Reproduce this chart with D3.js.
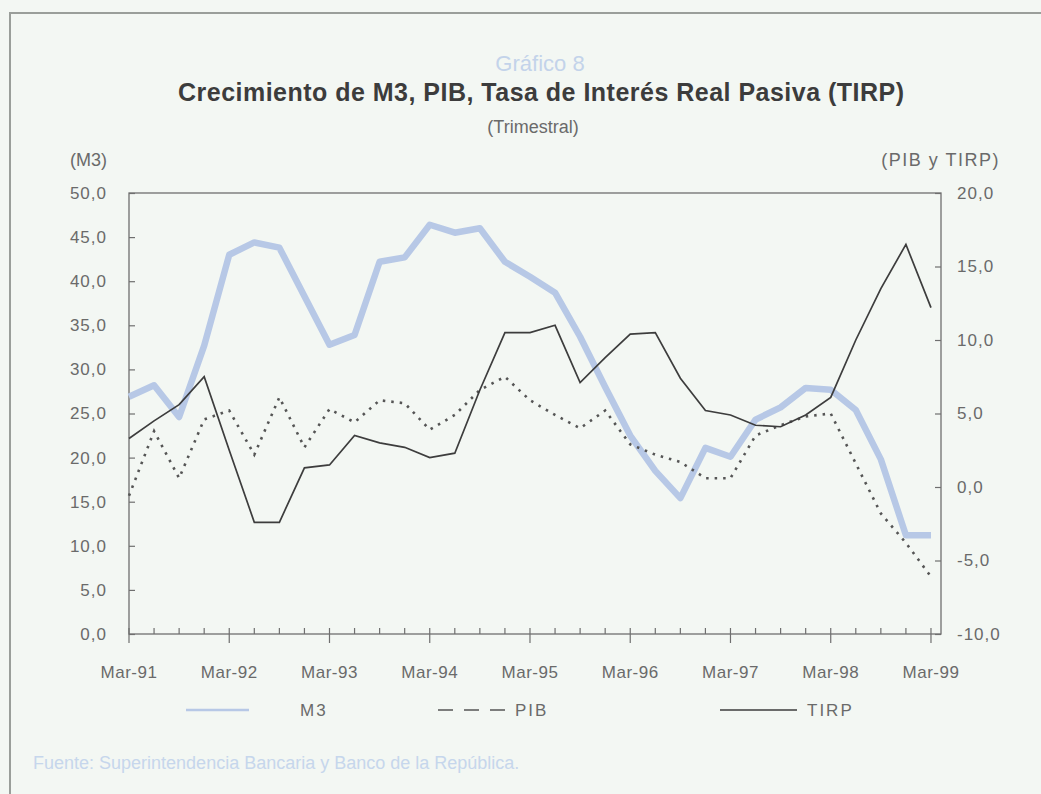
<!DOCTYPE html>
<html>
<head>
<meta charset="utf-8">
<script src="https://cdn.jsdelivr.net/npm/d3@7"></script>
<style>
  html, body { margin: 0; padding: 0; background: #f3f7f3; }
  svg { display: block; }
</style>
</head>
<body>
<script>
// quarterly series, Mar-91 .. Mar-99
let quarterLabels = ["Mar-91", "Mar-92", "Mar-93", "Mar-94", "Mar-95", "Mar-96", "Mar-97", "Mar-98", "Mar-99"];
let m3 = [26.9, 28.2, 24.6, 32.7, 43.0, 44.4, 43.8, 38.3, 32.8, 33.9, 42.2, 42.7, 46.4, 45.5, 46.0, 42.2, 40.5,
  38.7, 33.7, 28.0, 22.5, 18.5, 15.4, 21.1, 20.1, 24.3, 25.7, 27.9, 27.7, 25.4, 19.8, 11.2, 11.2];
let pib = [-0.6, 3.8, 0.6, 4.6, 5.2, 2.2, 6.1, 2.7, 5.3, 4.4, 5.9, 5.7, 3.9, 4.9, 6.6, 7.5, 5.9,
  4.9, 4.0, 5.2, 2.9, 2.2, 1.7, 0.6, 0.6, 3.5, 4.2, 4.8, 5.0, 1.6, -1.8, -3.8, -6.1];
let tirp = [3.3, 4.5, 5.6, 7.5, 2.5, -2.4, -2.4, 1.3, 1.5, 3.5, 3.0, 2.7, 2.0, 2.3, 6.6, 10.5, 10.5,
  11.0, 7.1, 8.8, 10.4, 10.5, 7.4, 5.2, 4.9, 4.2, 4.1, 4.9, 6.1, 10.0, 13.5, 16.5, 12.2];
let leftTicks = [0, 5, 10, 15, 20, 25, 30, 35, 40, 45, 50];
let rightTicks = [-10, -5, 0, 5, 10, 15, 20];

let w = 1041, h = 794;
let plotLeft = 129, plotRight = 941, plotTop = 193, plotBottom = 634;
let narrow = "'Liberation Sans Narrow', 'Arial Narrow', 'Liberation Sans', Arial, sans-serif";
let txtGray = "#6a6a6a";
let axisGray = "#6f6f6f";

const svg = d3.select("body").append("svg")
  .attr("width", w)
  .attr("height", h);

// outer frame
svg.append("path")
  .attr("d", "M10," + (h + 5) + " L10,13 L" + (w + 5) + ",13")
  .attr("fill", "none")
  .attr("stroke", "#9a9e9a")
  .attr("stroke-width", 2);

const xScale = d3.scaleLinear().domain([0, 32.4]).range([plotLeft, plotRight]);
const yLeft = d3.scaleLinear().domain([0, 50]).range([plotBottom, plotTop]);
const yRight = d3.scaleLinear().domain([-10, 20]).range([plotBottom, plotTop]);

const fmt = (v) => d3.format(".1f")(v).replace(".", ",").replace("−", "-");

// titles
svg.append("text").attr("x", 540).attr("y", 71).attr("text-anchor", "middle")
  .style("font-family", narrow).style("font-size", "22px").style("fill", "#c3d3ea")
  .text("Gráfico 8");
svg.append("text").attr("x", 541).attr("y", 101).attr("text-anchor", "middle")
  .attr("textLength", 726)
  .style("font-family", "'Liberation Sans', Arial, sans-serif").style("font-weight", "bold")
  .style("font-size", "25px").style("fill", "#3c3c3c")
  .text("Crecimiento de M3, PIB, Tasa de Interés Real Pasiva (TIRP)");
svg.append("text").attr("x", 533).attr("y", 133).attr("text-anchor", "middle")
  .style("font-family", narrow).style("font-size", "18px").style("fill", txtGray)
  .text("(Trimestral)");
svg.append("text").attr("x", 70).attr("y", 166)
  .style("font-family", narrow).style("font-size", "18px").style("fill", txtGray)
  .text("(M3)");
svg.append("text").attr("x", 1000).attr("y", 166).attr("text-anchor", "end")
  .style("font-family", narrow).style("font-size", "18px").style("letter-spacing", "1.5px")
  .style("fill", txtGray)
  .text("(PIB y TIRP)");

// plot box
svg.append("rect")
  .attr("x", plotLeft).attr("y", plotTop)
  .attr("width", plotRight - plotLeft).attr("height", plotBottom - plotTop)
  .attr("fill", "none").attr("stroke", axisGray).attr("stroke-width", 1.3);

// left axis
const yAxisL = d3.axisLeft(yLeft).tickValues(leftTicks).tickFormat(fmt).tickSizeInner(-6).tickSizeOuter(0).tickPadding(22);
svg.append("g").attr("transform", "translate(" + plotLeft + ",0)").call(yAxisL)
  .call(g => g.select(".domain").remove())
  .call(g => g.selectAll("line").attr("stroke", axisGray).attr("stroke-width", 1.2))
  .call(g => g.selectAll("text").style("font-family", narrow).style("font-size", "17px")
    .style("letter-spacing", "1px").attr("fill", txtGray));

// right axis
const yAxisR = d3.axisRight(yRight).tickValues(rightTicks).tickFormat(fmt).tickSizeInner(-6).tickSizeOuter(0).tickPadding(16);
svg.append("g").attr("transform", "translate(" + plotRight + ",0)").call(yAxisR)
  .call(g => g.select(".domain").remove())
  .call(g => g.selectAll("line").attr("stroke", axisGray).attr("stroke-width", 1.2))
  .call(g => g.selectAll("text").style("font-family", narrow).style("font-size", "17px")
    .style("letter-spacing", "1px").attr("fill", txtGray));

// bottom axis: minor quarterly ticks + major yearly ticks with labels
svg.append("g").selectAll("line")
  .data(d3.range(m3.length))
  .join("line")
  .attr("x1", (d) => xScale(d)).attr("x2", (d) => xScale(d))
  .attr("y1", plotBottom - 6)
  .attr("y2", (d) => d % 4 === 0 ? plotBottom + 9 : plotBottom)
  .attr("stroke", axisGray).attr("stroke-width", 1.2);

svg.append("g").selectAll("text")
  .data(quarterLabels)
  .join("text")
  .attr("x", (d, i) => xScale(i * 4))
  .attr("y", 678)
  .attr("text-anchor", "middle")
  .style("font-family", narrow).style("font-size", "17px").style("letter-spacing", "0.5px")
  .style("fill", txtGray)
  .text((d) => d);

// series
const lineL = d3.line().x((d, i) => xScale(i)).y((d) => yLeft(d));
const lineR = d3.line().x((d, i) => xScale(i)).y((d) => yRight(d));

svg.append("path").datum(m3).attr("d", lineL)
  .attr("fill", "none").attr("stroke", "#b7c8e6").attr("stroke-width", 6.5)
  .attr("stroke-linejoin", "round");

svg.append("path").datum(pib).attr("d", lineR)
  .attr("fill", "none").attr("stroke", "#555").attr("stroke-width", 2.6)
  .attr("stroke-dasharray", "2.5,6");

svg.append("path").datum(tirp).attr("d", lineR)
  .attr("fill", "none").attr("stroke", "#3d3d3d").attr("stroke-width", 1.7);

// legend
let legY = 710;
let legend = svg.append("g");
legend.append("line").attr("x1", 186).attr("x2", 249).attr("y1", legY).attr("y2", legY)
  .attr("stroke", "#b7c8e6").attr("stroke-width", 2.5);
legend.append("text").attr("x", 300).attr("y", legY + 6).text("M3");
legend.append("line").attr("x1", 438).attr("x2", 505).attr("y1", legY).attr("y2", legY)
  .attr("stroke", "#555").attr("stroke-width", 1.6).attr("stroke-dasharray", "15,11");
legend.append("text").attr("x", 515).attr("y", legY + 6).text("PIB");
legend.append("line").attr("x1", 720).attr("x2", 797).attr("y1", legY).attr("y2", legY)
  .attr("stroke", "#3d3d3d").attr("stroke-width", 1.5);
legend.append("text").attr("x", 807).attr("y", legY + 6).text("TIRP");
legend.selectAll("text").style("font-family", narrow).style("font-size", "17px")
  .style("letter-spacing", "2px").style("fill", txtGray);

// source note
svg.append("text").attr("x", 33).attr("y", 769)
  .style("font-family", narrow).style("font-size", "18px").style("fill", "#c6d6ec")
  .text("Fuente: Superintendencia Bancaria y Banco de la República.");
</script>
</body>
</html>
